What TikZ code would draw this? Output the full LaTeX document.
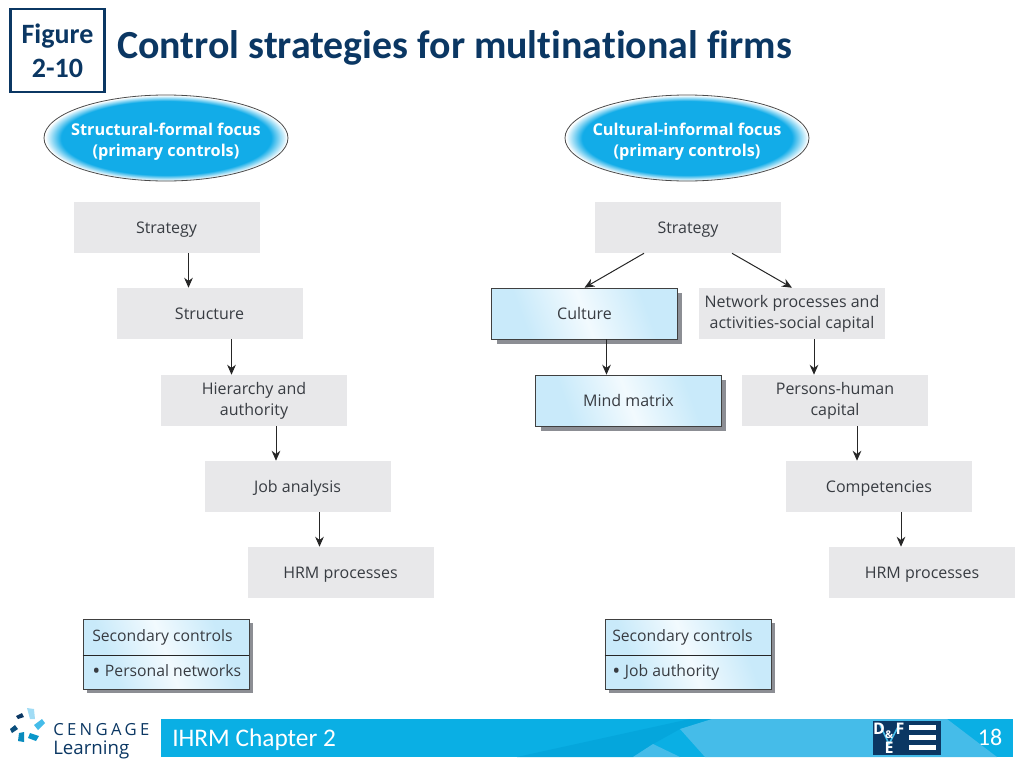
\documentclass[tikz,border=0pt]{standalone}
\usepackage{fontspec}
\setmainfont{Open Sans}
\newfontfamily\headfont[Ligatures=NoCommon]{Carlito}
\newfontfamily\logofont[LetterSpace=20]{Open Sans}
\usetikzlibrary{shapes.geometric,arrows.meta}

\definecolor{navyink}{HTML}{0B3763}
\definecolor{stepgray}{HTML}{E8E8EA}
\definecolor{bandblue}{HTML}{0AAFE4}
\definecolor{banddark}{HTML}{05A6DC}
\definecolor{bandlight}{HTML}{45BCE9}
\definecolor{focusblue}{HTML}{12ACE8}
\definecolor{shadowgray}{HTML}{8C8E94}
\definecolor{inkgray}{HTML}{383C42}
\definecolor{glowdeep}{HTML}{C9EAFA}
\definecolor{glowpale}{HTML}{F2FAFE}

\pgfdeclareradialshading{focusglow}{\pgfpointorigin}{color(0bp)=(focusblue); color(21.5bp)=(focusblue); color(24.8bp)=(white); color(50bp)=(white)}
\pgfdeclarehorizontalshading{boxglow}{100bp}{color(0bp)=(glowdeep); color(30bp)=(glowdeep); color(50bp)=(glowpale); color(70bp)=(glowdeep); color(100bp)=(glowdeep)}

\tikzset{
  stepbox/.style={fill=stepgray,minimum width=139.5pt,minimum height=38.25pt,inner sep=0pt,align=center,font=\fontsize{12}{15.8}\selectfont,text=inkgray},
  oneline/.style={text height=8.6pt,text depth=0pt},
  glowbox/.style={stepbox,draw=black!75,line width=.5pt,shading=boxglow,shading angle=20},
  focus/.style={ellipse,draw=black!70,line width=.6pt,shading=focusglow,minimum width=183pt,minimum height=64.5pt,inner sep=0pt},
  focuslabel/.style={inner sep=0pt,align=center,text=white,font=\fontsize{12.2}{15.8}\selectfont\bfseries},
  flow/.style={-{Stealth[length=7.5pt,width=6.5pt]},line width=.75pt,draw=black!85},
  plainlabel/.style={inner sep=0pt,anchor=west,text height=8.6pt,text depth=0pt,font=\fontsize{11.8}{15}\selectfont,text=inkgray},
  iconletter/.style={inner sep=0pt,text=white,font=\fontsize{12}{12}\selectfont\bfseries}
}

\begin{document}
\begin{tikzpicture}[x=.75pt,y=-.75pt]
  \useasboundingbox (0,0) rectangle (1024,768);
  % heading
  \node[draw=navyink,line width=1.6pt,fill=white,minimum width=70.5pt,minimum height=62pt,inner sep=0pt,align=center,text=navyink,font=\headfont\fontsize{21}{25.5}\selectfont\bfseries] (figbox) at (57.5,50.5) {Figure\\2-10};
  \node[inner sep=0pt,anchor=west,text=navyink,font=\headfont\fontsize{29.9}{34}\selectfont\bfseries] (title) at (117,48) {Control strategies for multinational firms};

  % focus ovals
  \node[focus] (focusL) at (166,138) {};
  \node[focus] (focusR) at (687,138) {};
  \node[focuslabel] (focusLtext) at (166,142) {Structural-formal focus\\(primary controls)};
  \node[focuslabel] (focusRtext) at (687,142) {Cultural-informal focus\\(primary controls)};

  % left column
  \node[stepbox,oneline] (stratL) at (166.5,227.5) {Strategy};
  \node[stepbox,oneline] (structL) at (209.5,313.5) {Structure};
  \node[stepbox] (hierL) at (254,400.5) {Hierarchy and\\authority};
  \node[stepbox,oneline] (jobL) at (297.5,486.5) {Job analysis};
  \node[stepbox,oneline] (hrmL) at (340.5,572.5) {HRM processes};

  % right column
  \node[stepbox,oneline] (stratR) at (688,227.5) {Strategy};
  \node[stepbox] (netR) at (792,313.5) {Network processes and\\activities-social capital};
  \node[stepbox] (persR) at (835,400.5) {Persons-human\\capital};
  \node[stepbox,oneline] (compR) at (879,486.5) {Competencies};
  \node[stepbox,oneline] (hrmR) at (922,572.5) {HRM processes};

  \fill[shadowgray] (497,293) rectangle (682,344);
  \fill[shadowgray] (541,380) rectangle (726,431);
  \node[glowbox,oneline] (cultR) at (584.5,313.5) {Culture};
  \node[glowbox,oneline] (mindR) at (628.5,400.5) {Mind matrix};

  \foreach \from/\to in {stratL/structL,structL/hierL,hierL/jobL,jobL/hrmL,cultR/mindR,netR/persR,persR/compR,compR/hrmR}
    \draw[flow] ([xshift=16.5pt]\from.south) -- ([xshift=16.5pt]\from.south |- \to.north);
  \draw[flow] ([xshift=-33pt]stratR.south) -- (cultR.north);
  \draw[flow] ([xshift=33pt]stratR.south) -- (netR.north);

  % secondary controls
  \foreach \name/\x/\tx/\item in {secL/83/92/Personal networks,secR/605/612/Job authority} {
    \fill[shadowgray] (\x+4,623) rectangle (\x+170,693);
    \node[glowbox,minimum width=124.5pt,minimum height=52.5pt] (\name) at (\x+83,654) {};
    \draw[line width=.5pt,black!85] (\name.west |- 0,655) -- (\name.east |- 0,655);
    \node[plainlabel] at (\tx,636) {Secondary controls};
    \node[plainlabel] at (\tx,671) {\raisebox{-1pt}{\fontsize{16}{15}\selectfont\textbullet}\hspace{3.5pt}\item};
  }

  % footer
  \fill[bandblue] (161,719) rectangle (1013,757);
  \fill[banddark] (517,757) -- (690,719) -- (712,719) -- (680,729) -- (653,744) -- (633,757) -- cycle;
  \fill[bandlight] (633,757) -- (653,744) -- (680,757) -- cycle;
  \fill[bandlight] (680,729) -- (712,719) -- (947,719) -- (997,757) -- (705,757) -- cycle;
  \node[inner sep=0pt,anchor=west,text=white,font=\headfont\fontsize{19}{22}\selectfont] (chapter) at (172,740) {IHRM Chapter 2};
  \node[inner sep=0pt,text=white,font=\headfont\fontsize{18}{22}\selectfont] (pageno) at (990,737) {18};

  % publisher mark
  \fill[navyink] (16,716) -- (22,713) -- (24,717) -- (18,719) -- cycle;
  \fill[glowdeep!70!bandlight] (27,708) -- (34,709) -- (35,719) -- (30,719) -- cycle;
  \fill[bandlight] (34,725) -- (42,719) -- (45,723) -- (38,730) -- cycle;
  \fill[navyink!80!bandblue] (10,729) -- (15,725) -- (18,729) -- (12,733) -- cycle;
  \fill[bandblue!70!navyink] (19,733) -- (24,732) -- (24,742) -- (18,741) -- cycle;
  \fill[bandblue!80!navyink] (30,733) -- (39,736) -- (36,741) -- (28,738) -- cycle;
  \node[inner sep=0pt,anchor=west,text=navyink,font=\logofont\fontsize{12.5}{14}\selectfont] (cengage) at (53,730) {CENGAGE};
  \node[inner sep=0pt,anchor=west,text=navyink,font=\fontsize{14}{16}\selectfont] (learning) at (53,750) {Learning};

  % process icon
  \fill[navyink] (873,721) rectangle (941,755);
  \draw[bandlight,line width=1.2pt] (880,725) -- (889,744) -- (899,725);
  \foreach \y in {725,735,745}
    \fill[white] (909,\y) rectangle (936,\y+5);
  \node[iconletter] (iconD) at (879,729) {D};
  \node[iconletter,font=\fontsize{8}{9}\selectfont\bfseries] (iconAmp) at (889,735) {\&};
  \node[iconletter] (iconF) at (900,729) {F};
  \node[iconletter] (iconE) at (889,748) {E};
\end{tikzpicture}
\end{document}
